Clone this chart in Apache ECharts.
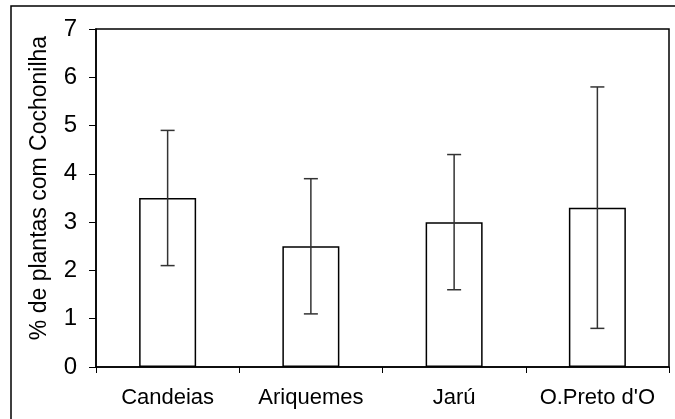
<!DOCTYPE html>
<html>
<head>
<meta charset="utf-8">
<script src="https://cdn.jsdelivr.net/npm/echarts@6/dist/echarts.min.js"></script>
<style>html,body{margin:0;padding:0;background:#fff}#c{width:675px;height:419px}</style>
</head>
<body>
<div id="c"></div>
<script>
var categories = ["Candeias", "Ariquemes", "Jarú", "O.Preto d'O"];
var means = [3.5, 2.5, 3.0, 3.3];
var lower = [2.1, 1.1, 1.6, 0.8];
var upper = [4.9, 3.9, 4.4, 5.8];
var yTicks = [0, 1, 2, 3, 4, 5, 6, 7];

var chart = echarts.init(document.getElementById('c'));
var font = 'Liberation Sans, Arial, sans-serif';
chart.setOption({
  animation: false,
  backgroundColor: '#fff',
  graphic: [{
    type: 'rect', shape: {x: 11, y: 6, width: 680, height: 430},
    style: {fill: null, stroke: '#000', lineWidth: 1.5}, silent: true, z: 0
  }],
  grid: {left: 96, top: 29, right: 6, bottom: 52, show: true, borderColor: '#000', borderWidth: 1.5, backgroundColor: 'transparent'},
  xAxis: {
    type: 'category', data: categories, boundaryGap: true,
    axisLine: {lineStyle: {color: '#000', width: 1.5}},
    axisTick: {show: true, interval: 0, length: 6, lineStyle: {color: '#000', width: 1}},
    axisLabel: {color: '#000', fontSize: 22, fontFamily: font, margin: 20, interval: 0}
  },
  yAxis: {
    type: 'value', min: yTicks[0], max: yTicks[yTicks.length - 1], interval: 1,
    name: '% de plantas com Cochonilha', nameLocation: 'middle', nameGap: 45, nameRotate: 90,
    nameTextStyle: {color: '#000', fontSize: 23, fontFamily: font, padding: [0, 0, 0, 20]},
    splitLine: {show: false},
    axisLine: {show: true, lineStyle: {color: '#000', width: 1.5}},
    axisTick: {show: true, length: 7, lineStyle: {color: '#000', width: 1}},
    axisLabel: {color: '#000', fontSize: 24, fontFamily: font, margin: 19}
  },
  series: [{
    type: 'bar', data: means, barWidth: 57,
    itemStyle: {color: '#fff', borderColor: '#000', borderWidth: 1.5},
    z: 2
  }, {
    type: 'custom', z: 3,
    data: categories.map(function (c, i) { return [i, lower[i], upper[i]]; }),
    renderItem: function (params, api) {
      var lo = api.coord([api.value(0), api.value(1)]);
      var hi = api.coord([api.value(0), api.value(2)]);
      var hw = 7;
      var st = {stroke: '#333', lineWidth: 1.5};
      return {type: 'group', children: [
        {type: 'line', shape: {x1: lo[0], y1: lo[1], x2: hi[0], y2: hi[1]}, style: st},
        {type: 'line', shape: {x1: lo[0] - hw, y1: lo[1], x2: lo[0] + hw, y2: lo[1]}, style: st},
        {type: 'line', shape: {x1: hi[0] - hw, y1: hi[1], x2: hi[0] + hw, y2: hi[1]}, style: st}
      ]};
    }
  }]
});
</script>
</body>
</html>
